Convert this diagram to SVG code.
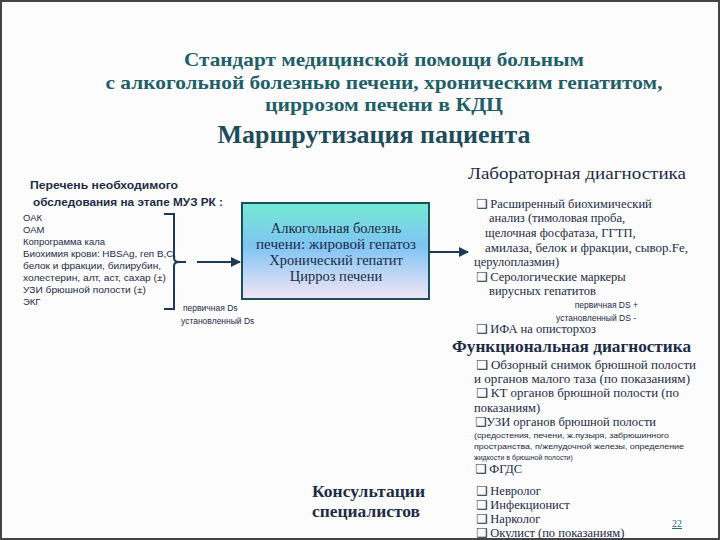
<svg xmlns="http://www.w3.org/2000/svg" width="720" height="540" viewBox="0 0 720 540">
<defs>
<linearGradient id="boxg" x1="0" y1="0" x2="0" y2="1">
<stop offset="0" stop-color="#74ead2"/>
<stop offset="0.45" stop-color="#80c4f4"/>
<stop offset="1" stop-color="#f4e6f4"/>
</linearGradient>
<marker id="ah" viewBox="0 0 10 10" refX="9" refY="5" markerWidth="5" markerHeight="5" orient="auto">
<path d="M0,0 L10,5 L0,10 z" fill="#1c3a55"/>
</marker>
</defs>
<style>
.title{font-family:"Liberation Serif",serif;font-weight:bold;fill:#1f5f68;font-size:19px;text-anchor:middle}
.main{font-family:"Liberation Serif",serif;font-weight:bold;fill:#1d4d5a;font-size:25px;text-anchor:middle}
.head{font-family:"Liberation Serif",serif;fill:#1c2b45;font-size:16px}
.hb{font-family:"Liberation Serif",serif;font-weight:bold;fill:#1c2b45;font-size:16px}
.lh{font-family:"Liberation Sans",sans-serif;font-weight:bold;fill:#1c2b45;font-size:11px}
.ls{font-family:"Liberation Sans",sans-serif;fill:#1c2b45;font-size:9.5px}
.sm{font-family:"Liberation Sans",sans-serif;fill:#1c2b45;font-size:8.5px}
.rt{font-family:"Liberation Serif","DejaVu Sans",serif;fill:#1c2b45;font-size:12.5px}
.tiny{font-family:"Liberation Sans",sans-serif;fill:#1c2b45;font-size:7px}
.box{font-family:"Liberation Serif",serif;fill:#1c2b45;font-size:14.5px;text-anchor:middle}
.con{stroke:#1c3a55;stroke-width:2;fill:none}
</style>
<rect x="0" y="0" width="720" height="540" fill="#fcfcfc"/>
<rect x="1" y="1" width="718" height="538" fill="none" stroke="#444" stroke-width="2"/>

<g id="title">
<text class="title" x="384" y="66" textLength="400" lengthAdjust="spacingAndGlyphs">Стандарт медицинской помощи больным</text>
<text class="title" x="384" y="89" textLength="557" lengthAdjust="spacingAndGlyphs">с алкогольной болезнью печени, хроническим гепатитом,</text>
<text class="title" x="384" y="111" textLength="238" lengthAdjust="spacingAndGlyphs">циррозом печени в  КДЦ</text>
<text class="main" x="374" y="143" textLength="313" lengthAdjust="spacingAndGlyphs">Маршрутизация пациента</text>
</g>

<g id="left-list">
<text class="lh" x="30" y="189" textLength="148" lengthAdjust="spacingAndGlyphs">Перечень необходимого</text>
<text class="lh" x="33" y="206" textLength="190" lengthAdjust="spacingAndGlyphs">обследования на этапе МУЗ РК :</text>
<text class="ls" x="23" y="221">ОАК</text>
<text class="ls" x="23" y="233">ОАМ</text>
<text class="ls" x="23" y="245">Копрограмма кала</text>
<text class="ls" x="23" y="257" textLength="153" lengthAdjust="spacingAndGlyphs">Биохимия крови: HBSAg, геп В,С,</text>
<text class="ls" x="23" y="269" textLength="138" lengthAdjust="spacingAndGlyphs">белок и фракции, билирубин,</text>
<text class="ls" x="23" y="281" textLength="143" lengthAdjust="spacingAndGlyphs">холестерин, алт, аст, сахар (±)</text>
<text class="ls" x="23" y="293" textLength="123" lengthAdjust="spacingAndGlyphs">УЗИ брюшной полости (±)</text>
<text class="ls" x="23" y="305">ЭКГ</text>
<text class="sm" x="183" y="311">первичная Ds</text>
<text class="sm" x="181" y="324">установленный Ds</text>
</g>

<g id="dx-box">
<rect x="242" y="203" width="187" height="96" fill="url(#boxg)" stroke="#1a4f5e" stroke-width="2"/>
<text class="box" x="336" y="233">Алкогольная болезнь</text>
<text class="box" x="336" y="249" textLength="160" lengthAdjust="spacingAndGlyphs">печени: жировой гепатоз</text>
<text class="box" x="336" y="265">Хронический гепатит</text>
<text class="box" x="336" y="281">Цирроз печени</text>
</g>

<g id="lab">
<text class="head" x="468" y="179" textLength="218" lengthAdjust="spacingAndGlyphs">Лабораторная диагностика</text>
<text class="rt" x="476" y="208">❑ Расширенный биохимический</text>
<text class="rt" x="489" y="222">анализ (тимоловая  проба,</text>
<text class="rt" x="485" y="237">щелочная  фосфатаза, ГГТП,</text>
<text class="rt" x="485" y="252" textLength="203" lengthAdjust="spacingAndGlyphs">амилаза, белок и фракции, сывор.Fe,</text>
<text class="rt" x="474" y="266">церулоплазмин)</text>
<text class="rt" x="476" y="281">❑ Серологические маркеры</text>
<text class="rt" x="489" y="295">вирусных гепатитов</text>
<text class="sm" x="638" y="308" text-anchor="end">первичная DS +</text>
<text class="sm" x="636" y="321" text-anchor="end">установленный DS -</text>
<text class="rt" x="476" y="333" font-size="12">❑ ИФА на описторхоз</text>
</g>

<g id="func">
<text class="hb" x="452" y="352" textLength="239" lengthAdjust="spacingAndGlyphs">Функциональная диагностика</text>
<text class="rt" x="476" y="369" textLength="220" lengthAdjust="spacingAndGlyphs">❑ Обзорный снимок брюшной полости</text>
<text class="rt" x="474" y="383" textLength="216" lengthAdjust="spacingAndGlyphs">и органов малого таза (по показаниям)</text>
<text class="rt" x="476" y="397" textLength="203" lengthAdjust="spacingAndGlyphs">❑  КТ органов брюшной полости (по</text>
<text class="rt" x="474" y="412">показаниям)</text>
<text class="rt" x="475" y="426">❑УЗИ органов брюшной полости</text>
<text class="tiny" x="474" y="438" textLength="195" lengthAdjust="spacingAndGlyphs">(средостения, печени, ж.пузыря, забрюшинного</text>
<text class="tiny" x="474" y="449" textLength="210" lengthAdjust="spacingAndGlyphs">пространства, п/желудочной железы, определение</text>
<text class="tiny" x="474" y="460">жидкости в брюшной полости)</text>
<text class="rt" x="475" y="473">❑ ФГДС</text>
</g>

<g id="consult">
<text class="hb" x="312" y="497" textLength="113" lengthAdjust="spacingAndGlyphs">Консультации</text>
<text class="hb" x="312" y="517" textLength="108" lengthAdjust="spacingAndGlyphs">специалистов</text>
<text class="rt" x="476" y="495">❑  Невролог</text>
<text class="rt" x="476" y="509">❑  Инфекционист</text>
<text class="rt" x="476" y="523">❑  Нарколог</text>
<text class="rt" x="476" y="537">❑  Окулист (по показаниям)</text>
<text x="672" y="527" font-family="Liberation Serif,serif" font-size="10" fill="#2a6a80" text-decoration="underline">22</text>
</g>

<g id="connectors">
<path class="con" stroke-width="1.2" d="M164,214 H174 V258 Q174,262 179,262 Q174,262 174,266 V309 H164"/>
<line class="con" stroke-width="1.2" x1="179" y1="262" x2="186" y2="262"/>
<line class="con" x1="197" y1="262" x2="240" y2="262" marker-end="url(#ah)"/>
<line class="con" x1="429" y1="252" x2="468" y2="252" marker-end="url(#ah)"/>
</g>
</svg>
